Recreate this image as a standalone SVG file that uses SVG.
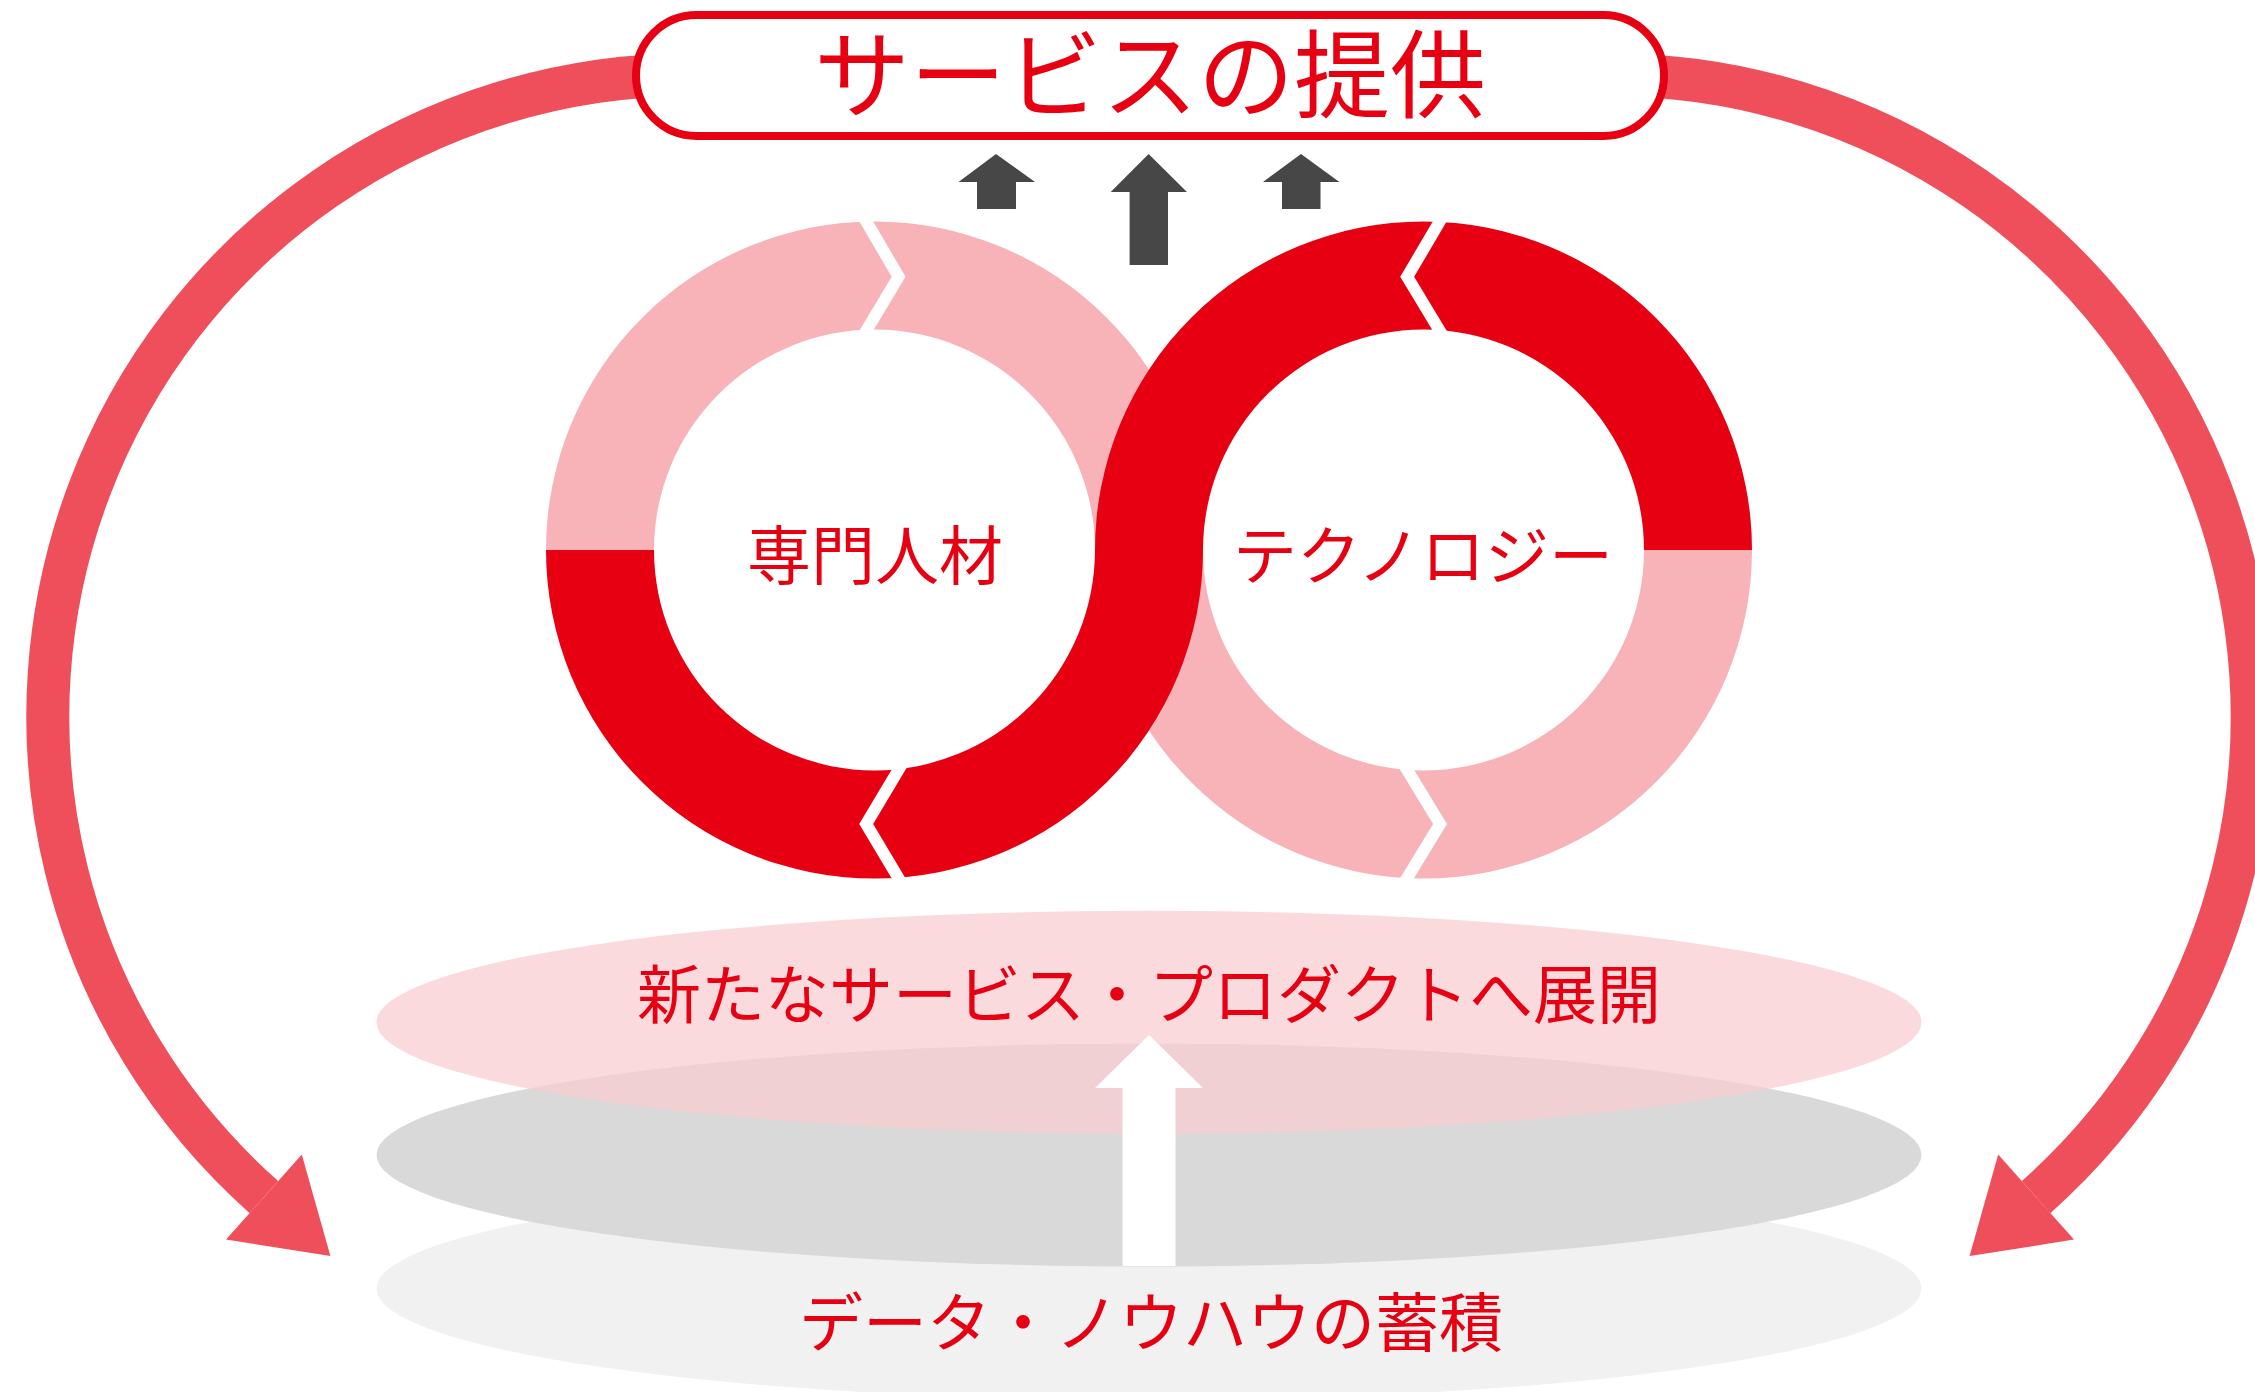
<svg xmlns="http://www.w3.org/2000/svg" width="2255" height="1392" viewBox="0 0 2255 1392">
  <defs>
    <style>
      .lbl { font-family: "Noto Sans CJK JP", "Noto Sans", sans-serif; fill: #e60012; text-anchor: middle; }
      .cycle { fill: none; stroke: #ee4f5b; stroke-width: 43; stroke-linecap: butt; }
      .cyclehead { fill: #ee4f5b; }
      .red { fill: #e60012; }
      .pink { fill: #f7b3b8; }
      .notch { fill: none; stroke: #ffffff; stroke-width: 12; stroke-linejoin: miter; stroke-miterlimit: 10; }
      .dark { fill: #474747; }
    </style>
  </defs>
  <rect width="2255" height="1392" fill="#ffffff"/>

  <!-- stacked layers -->
  <g id="layer-data">
    <ellipse cx="1149" cy="1288.5" rx="772.5" ry="111.5" fill="#f1f1f1"/>
  </g>
  <g id="layer-middle">
    <ellipse cx="1149" cy="1155" rx="772.5" ry="111.5" fill="#d9d9d9"/>
  </g>
  <g id="layer-new">
    <ellipse cx="1149" cy="1022.3" rx="772.5" ry="111.5" fill="#f8ccd0" fill-opacity="0.72"/>
  </g>

  <!-- connectors -->
  <g id="connectors">
    <path class="cycle" d="M 689 74.7 A 642 642 0 0 0 263.9 1197.1"/>
    <polygon class="cyclehead" points="226,1239.6 330.4,1256 301.8,1154.6"/>
    <path class="cycle" d="M 1611 74.7 A 642 642 0 0 1 2036.1 1197.1"/>
    <polygon class="cyclehead" points="2074,1239.6 1969.6,1256 1998.2,1154.6"/>
    <polygon class="dark" points="996,154 1035,182 1016,182 1016,209 977,209 977,182 958.5,182"/>
    <polygon class="dark" points="1148.6,154 1187,192 1168,192 1168,265 1129.6,265 1129.6,192 1110.7,192"/>
    <polygon class="dark" points="1301,154 1339.4,182 1320.5,182 1320.5,209 1282,209 1282,182 1263,182"/>
    <polygon fill="#ffffff" points="1149,1035 1203,1088 1175.5,1088 1175.5,1266 1122.5,1266 1122.5,1088 1095,1088"/>
  </g>

  <!-- title node -->
  <g id="service">
    <rect x="636" y="15" width="1028" height="121" rx="60.5" ry="60.5" fill="#ffffff" stroke="#e60012" stroke-width="8"/>
    <text class="lbl" x="1150" y="110" font-size="96">サービスの提供</text>
  </g>

  <!-- rings -->
  <g id="rings">
    <path class="pink" d="M 546 550 A 328.5 328.5 0 0 1 1203 550 L 1095 550 A 220.5 220.5 0 0 0 654 550 Z"/>
    <path class="pink" d="M 1095 550 A 328.5 328.5 0 0 0 1752 550 L 1644 550 A 220.5 220.5 0 0 1 1203 550 Z"/>
    <path class="red" d="M 546 550 A 328.5 328.5 0 0 0 1203 550 L 1095 550 A 220.5 220.5 0 0 1 654 550 Z"/>
    <path class="red" d="M 1095 550 A 328.5 328.5 0 0 1 1752 550 L 1644 550 A 220.5 220.5 0 0 0 1203 550 Z"/>
    <polyline class="notch" points="862.5,215 898.6,276.8 862.5,337"/>
    <polyline class="notch" points="902,764 866.2,824 902,884"/>
    <polyline class="notch" points="1443.5,215 1407.2,276.8 1443.5,337"/>
    <polyline class="notch" points="1403.5,764 1440,824 1403.5,884"/>
  </g>
  <g id="expert">
    <text class="lbl" x="875" y="579" font-size="64">専門人材</text>
  </g>
  <g id="technology">
    <text class="lbl" x="1423" y="579" font-size="64">テクノロジー</text>
  </g>

  <g id="new-label">
    <text class="lbl" x="1149" y="1018" font-size="64">新たなサービス・プロダクトへ展開</text>
  </g>
  <g id="data-label">
    <text class="lbl" x="1151" y="1346" font-size="64">データ・ノウハウの蓄積</text>
  </g>
</svg>
